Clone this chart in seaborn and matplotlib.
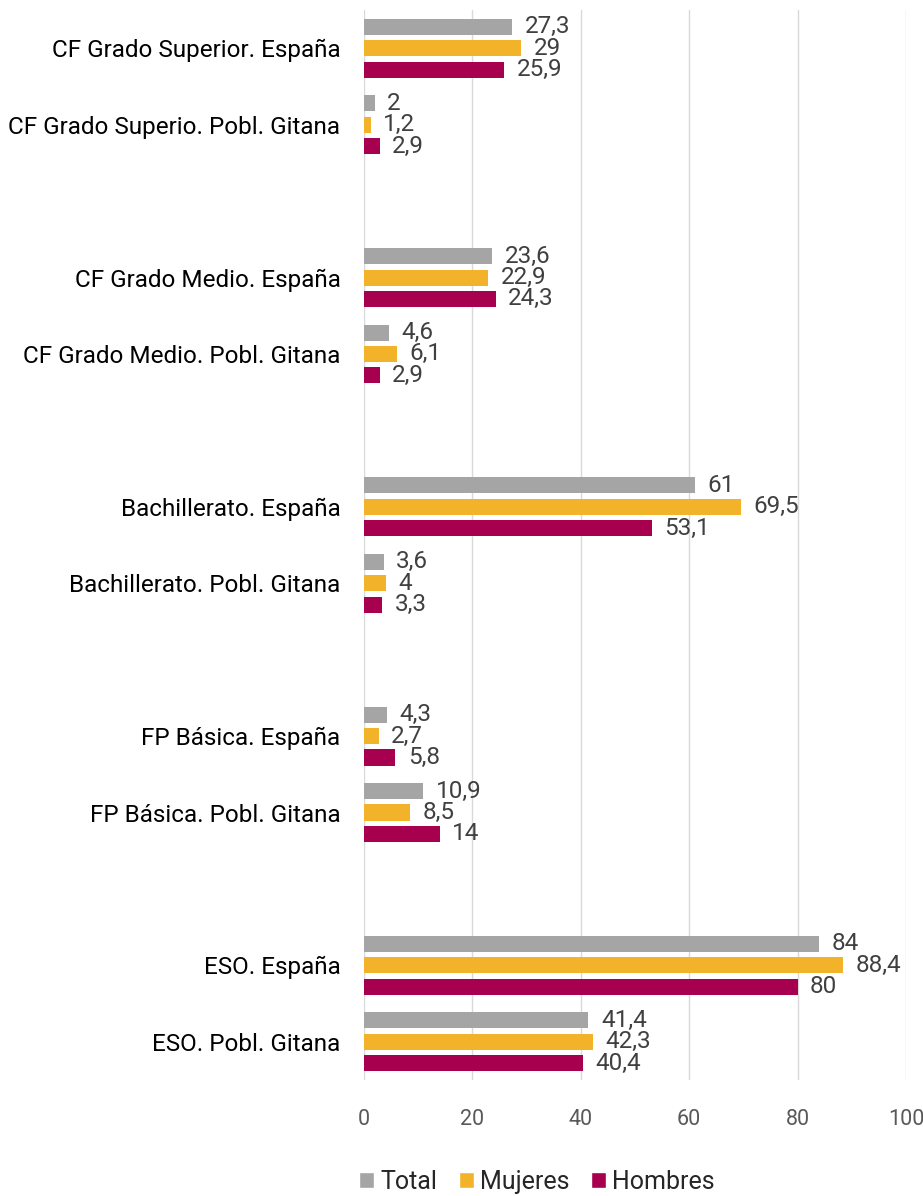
import pandas as pd
import matplotlib.pyplot as plt
import seaborn as sns
from matplotlib.patches import Patch

# ----------------------------------------------------------------------
# data (top to bottom; "" = empty spacer row between groups)
# ----------------------------------------------------------------------
categories = [
    "CF Grado Superior. España",
    "CF Grado Superio. Pobl. Gitana",
    "",
    "CF Grado Medio. España",
    "CF Grado Medio. Pobl. Gitana",
    "",
    "Bachillerato. España",
    "Bachillerato. Pobl. Gitana",
    "",
    "FP Básica. España",
    "FP Básica. Pobl. Gitana",
    "",
    "ESO. España",
    "ESO. Pobl. Gitana",
]

total = [27.3, 2, None, 23.6, 4.6, None, 61, 3.6, None, 4.3, 10.9, None, 84, 41.4]
mujeres = [29, 1.2, None, 22.9, 6.1, None, 69.5, 4, None, 2.7, 8.5, None, 88.4, 42.3]
hombres = [25.9, 2.9, None, 24.3, 2.9, None, 53.1, 3.3, None, 5.8, 14, None, 80, 40.4]

series = ["Total", "Mujeres", "Hombres"]
colors = ["#A5A5A5", "#F2B22A", "#A6004F"]
x_ticks = [0, 20, 40, 60, 80, 100]

# unique keys so the spacer rows keep their own slot
keys = [c if c else " " * (i + 1) for i, c in enumerate(categories)]

rows = []
for name, vals in zip(series, [total, mujeres, hombres]):
    for k, v in zip(keys, vals):
        if v is not None:
            rows.append({"cat": k, "serie": name, "value": v})
df = pd.DataFrame(rows)

# ----------------------------------------------------------------------
# plot
# ----------------------------------------------------------------------
sns.set_style("white")
plt.rcParams["font.family"] = ["Roboto", "DejaVu Sans"]

fig = plt.figure(figsize=(9.23, 11.96), dpi=100)
ax = fig.add_axes([0.3944, 0.097, 0.5872, 0.8946])

sns.barplot(
    data=df, y="cat", x="value", hue="serie",
    order=keys, hue_order=series, palette=colors, saturation=1,
    orient="h", width=0.84, gap=0.25, errorbar=None,
    linewidth=0, legend=False, ax=ax,
)

for cont in ax.containers:
    labels = [f"{v:g}".replace(".", ",") for v in cont.datavalues]
    ax.bar_label(cont, labels=labels, padding=9, fontsize=17.5, color="#404040")

ax.set_xlim(0, 100)
ax.set_ylim(len(keys) - 0.5, -0.5)
ax.set_xticks(x_ticks)
ax.set_xticklabels([str(t) for t in x_ticks], fontsize=15.5, color="#595959")
ax.set_yticks(range(len(keys)))
ax.set_yticklabels(categories, fontsize=17.5, color="#000000")
ax.tick_params(axis="x", length=0, pad=21)
ax.tick_params(axis="y", length=0, pad=17)
ax.set_xlabel("")
ax.set_ylabel("")

ax.grid(axis="x", color="#D9D9D9", linewidth=1)
ax.set_axisbelow(True)
for s in ax.spines.values():
    s.set_visible(False)

handles = [Patch(facecolor=c, label=s) for s, c in zip(series, colors)]
fig.legend(
    handles=handles, loc="center", bbox_to_anchor=(537 / 923, 1 - 1182 / 1196),
    ncol=3, frameon=False, fontsize=18, handlelength=0.6, handleheight=0.6,
    handletextpad=0.25, columnspacing=0.85, borderpad=0.1,
)

fig.savefig("out.png", dpi=100)
